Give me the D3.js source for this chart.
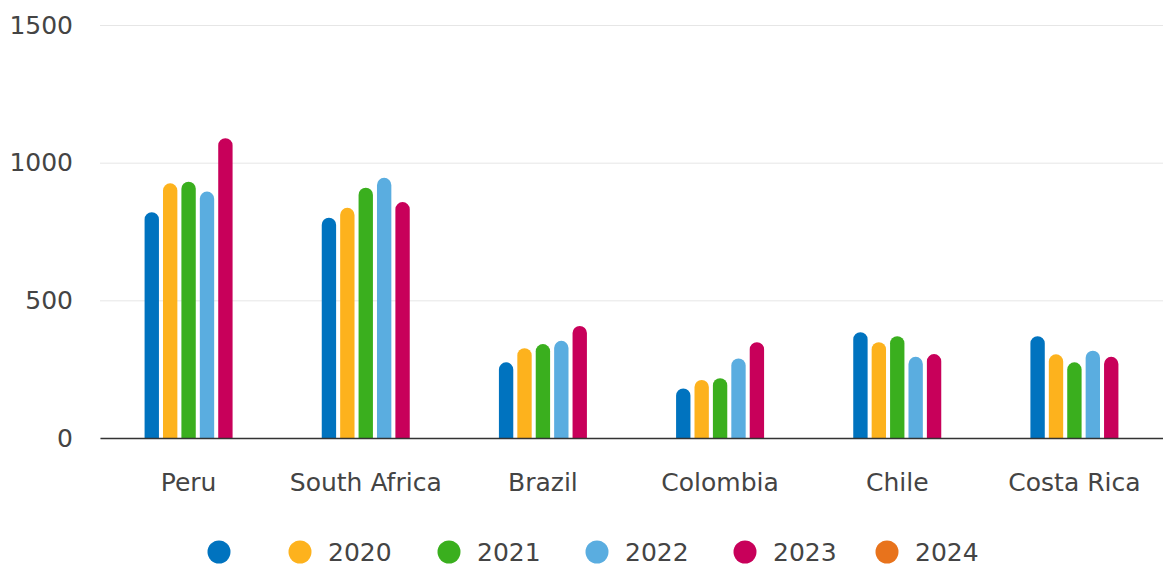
<!DOCTYPE html>
<html>
<head>
<meta charset="utf-8">
<script src="https://cdn.jsdelivr.net/npm/d3@7"></script>
<style>
  body { margin: 0; background: #fff; }
  text { font-family: "DejaVu Sans", sans-serif; }
</style>
</head>
<body>
<div id="chart"></div>
<script>
// Data
const countries = ["Peru", "South Africa", "Brazil", "Colombia", "Chile", "Costa Rica"];
const seriesNames = ["", "2020", "2021", "2022", "2023", "2024"];
const seriesColors = ["#0073bf", "#fdb21d", "#3aaf1e", "#5aade0", "#c8005a", "#e8731c"];
const valuesFirst = [820, 800, 275, 180, 384, 370];
const values2020 = [925, 836, 326, 211, 348, 304];
const values2021 = [931, 909, 341, 217, 370, 275];
const values2022 = [895, 945, 353, 289, 295, 317];
const values2023 = [1089, 857, 407, 348, 305, 295];
const values2024 = [];
const yTicks = [0, 500, 1000, 1500];

const seriesValues = [valuesFirst, values2020, values2021, values2022, values2023, values2024];

function draw() {
    let dimensions = {
        width: 1163,
        height: 567,
        margin: { top: 25, right: 0, bottom: 129, left: 100 }
    };
    dimensions.containerWidth = dimensions.width - dimensions.margin.left - dimensions.margin.right;
    dimensions.containerHeight = dimensions.height - dimensions.margin.top - dimensions.margin.bottom;

    const svg = d3.select("#chart")
        .append("svg")
        .attr("width", dimensions.width)
        .attr("height", dimensions.height);

    const container = svg.append("g")
        .attr("transform", `translate(${dimensions.margin.left}, ${dimensions.margin.top})`);

    // Scales
    const xScale = d3.scaleBand()
        .domain(countries)
        .range([0, dimensions.containerWidth]);

    // only series with data get a slot
    const barSeries = seriesNames.map((n, i) => i).filter(i => seriesValues[i].length);
    const xInner = d3.scaleBand()
        .domain(barSeries)
        .range([-44, 44])
        .paddingInner(0.22);

    const yScale = d3.scaleLinear()
        .domain([0, 1500])
        .range([dimensions.containerHeight, 0]);

    // Grid + y axis
    const yAxis = d3.axisLeft(yScale)
        .tickValues(yTicks)
        .tickFormat(d3.format("d"))
        .tickSize(-dimensions.containerWidth)
        .tickPadding(27);

    const yAxisGroup = container.append("g").call(yAxis);
    yAxisGroup.select(".domain").remove();
    yAxisGroup.selectAll(".tick line")
        .attr("stroke", "#e6e6e6")
        .attr("stroke-width", 1);
    yAxisGroup.selectAll(".tick text")
        .attr("fill", "#444")
        .style("font-size", "25px");

    // Bars
    const r = xInner.bandwidth() / 2;
    const barPath = (x, y, w, h) => {
        const rr = Math.min(r, h);
        return `M${x},${y + h} V${y + rr} A${rr},${rr} 0 0 1 ${x + w},${y + rr} V${y + h} Z`;
    };

    const groups = container.selectAll(".group")
        .data(countries)
        .join("g")
        .attr("class", "group")
        .attr("transform", d => `translate(${xScale(d) + xScale.bandwidth() / 2}, 0)`);

    groups.selectAll("path")
        .data((d, ci) => barSeries.map(si => ({ si, v: seriesValues[si][ci] })))
        .join("path")
        .attr("fill", d => seriesColors[d.si])
        .attr("d", d => barPath(
            xInner(d.si),
            yScale(d.v),
            xInner.bandwidth(),
            yScale(0) - yScale(d.v)
        ));

    // x axis
    const xAxis = d3.axisBottom(xScale).tickSize(0).tickPadding(35);
    const xAxisGroup = container.append("g")
        .attr("transform", `translate(0, ${dimensions.containerHeight})`)
        .call(xAxis);
    xAxisGroup.select(".domain")
        .attr("stroke", "#333")
        .attr("stroke-width", 1.5);
    xAxisGroup.selectAll(".tick text")
        .attr("fill", "#444")
        .style("font-size", "25px");

    // Legend
    const legendX = [219, 300, 449, 597, 745, 887];
    const legend = svg.append("g")
        .attr("transform", "translate(0, 552)");
    const items = legend.selectAll("g")
        .data(seriesNames)
        .join("g")
        .attr("transform", (d, i) => `translate(${legendX[i]}, 0)`);
    items.append("circle")
        .attr("r", 11.5)
        .attr("fill", (d, i) => seriesColors[i]);
    items.append("text")
        .attr("x", 28)
        .attr("dy", "0.36em")
        .attr("fill", "#444")
        .style("font-size", "25px")
        .text(d => d);
}

draw();
</script>
</body>
</html>
